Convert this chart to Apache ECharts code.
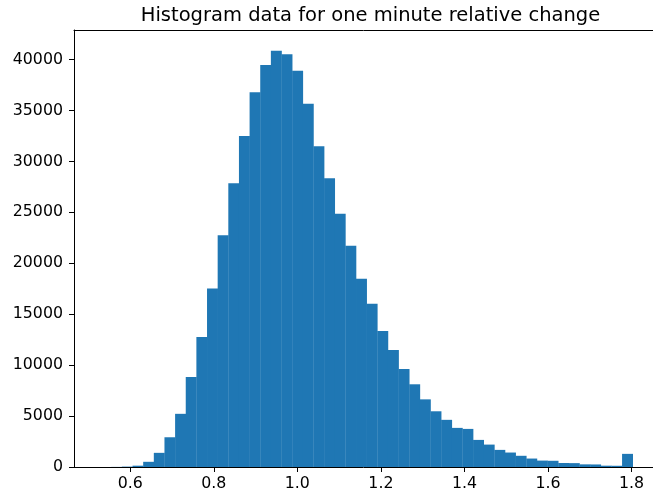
<!DOCTYPE html>
<html>
<head>
<meta charset="utf-8">
<script src="https://cdn.jsdelivr.net/npm/echarts@6/dist/echarts.min.js"></script>
<style>
html,body{margin:0;padding:0;background:#fff;}
#chart{width:653px;height:497px;}
</style>
</head>
<body>
<div id="chart"></div>
<script>
// Histogram data (50 bins)
var binLow = 0.529;
var binHigh = 1.8028;
var counts = [0, 10, 40, 130, 510, 1390, 2920, 5220, 8840, 12760,
  17530, 22750, 27860, 32500, 36780, 39460, 40860, 40510, 38900, 35670,
  31490, 28350, 24850, 21720, 18480, 16030, 13350, 11490, 9630, 8120,
  6640, 5470, 4630, 3840, 3740, 2660, 2200, 1680, 1420, 1100,
  830, 630, 610, 390, 380, 260, 250, 130, 120, 1290];
var xTicks = [0.6, 0.8, 1.0, 1.2, 1.4, 1.6, 1.8];
var xTickLabels = ['0.6', '0.8', '1.0', '1.2', '1.4', '1.6', '1.8'];
var yTicks = [0, 5000, 10000, 15000, 20000, 25000, 30000, 35000, 40000];
var titleText = 'Histogram data for one minute relative change';

var nb = counts.length;
var bw = (binHigh - binLow) / nb;
var barData = counts.map(function (c, i) {
  return [binLow + i * bw, binLow + (i + 1) * bw, c];
});

var chart = echarts.init(document.getElementById('chart'), null, {renderer: 'canvas'});
var font = 'DejaVu Sans';
var xMin = 0.4653, xMax = 1.8514;
var option = {
  animation: false,
  backgroundColor: '#ffffff',
  title: {
    text: titleText,
    left: 365.5,
    top: 1,
    textAlign: 'center',
    textStyle: {fontFamily: font, fontSize: 19.5, fontWeight: 'normal', color: '#000'}
  },
  grid: {left: 74, right: 0, top: 30, bottom: 30, containLabel: false},
  xAxis: [{
    type: 'value',
    min: xMin, max: xMax,
    axisLine: {show: true, onZero: false, lineStyle: {color: '#000', width: 1}},
    axisTick: {show: true, length: 5, inside: false, customValues: xTicks, lineStyle: {color: '#000', width: 1}},
    axisLabel: {
      show: true, margin: 9, customValues: xTicks,
      fontFamily: font, fontSize: 15.8, color: '#000',
      formatter: function (v) {
        for (var i = 0; i < xTicks.length; i++) { if (Math.abs(xTicks[i] - v) < 1e-6) return xTickLabels[i]; }
        return '';
      }
    },
    splitLine: {show: false}
  }, {
    type: 'value', position: 'top',
    min: xMin, max: xMax,
    axisLine: {show: true, onZero: false, lineStyle: {color: '#000', width: 1}},
    axisTick: {show: false}, axisLabel: {show: false}, splitLine: {show: false}
  }],
  yAxis: {
    type: 'value',
    min: 0, max: 42900, interval: 5000,
    axisLine: {show: true, onZero: false, lineStyle: {color: '#000', width: 1}},
    axisTick: {show: true, length: 5, inside: false, lineStyle: {color: '#000', width: 1}},
    axisLabel: {
      margin: 11, fontFamily: font, fontSize: 15.8, color: '#000',
      formatter: function (v) { return yTicks.indexOf(v) >= 0 ? String(v) : ''; },
      showMaxLabel: false
    },
    splitLine: {show: false}
  },
  series: [{
    type: 'custom',
    xAxisIndex: 0,
    yAxisIndex: 0,
    data: barData,
    encode: {x: [0, 1], y: 2},
    clip: true,
    renderItem: function (params, api) {
      var p0 = api.coord([api.value(0), api.value(2)]);
      var p1 = api.coord([api.value(1), 0]);
      return {
        type: 'rect',
        shape: {x: p0[0], y: p0[1], width: p1[0] - p0[0] + 0.3, height: p1[1] - p0[1]},
        style: {fill: '#1f77b4'}
      };
    }
  }]
};
chart.setOption(option);
</script>
</body>
</html>
